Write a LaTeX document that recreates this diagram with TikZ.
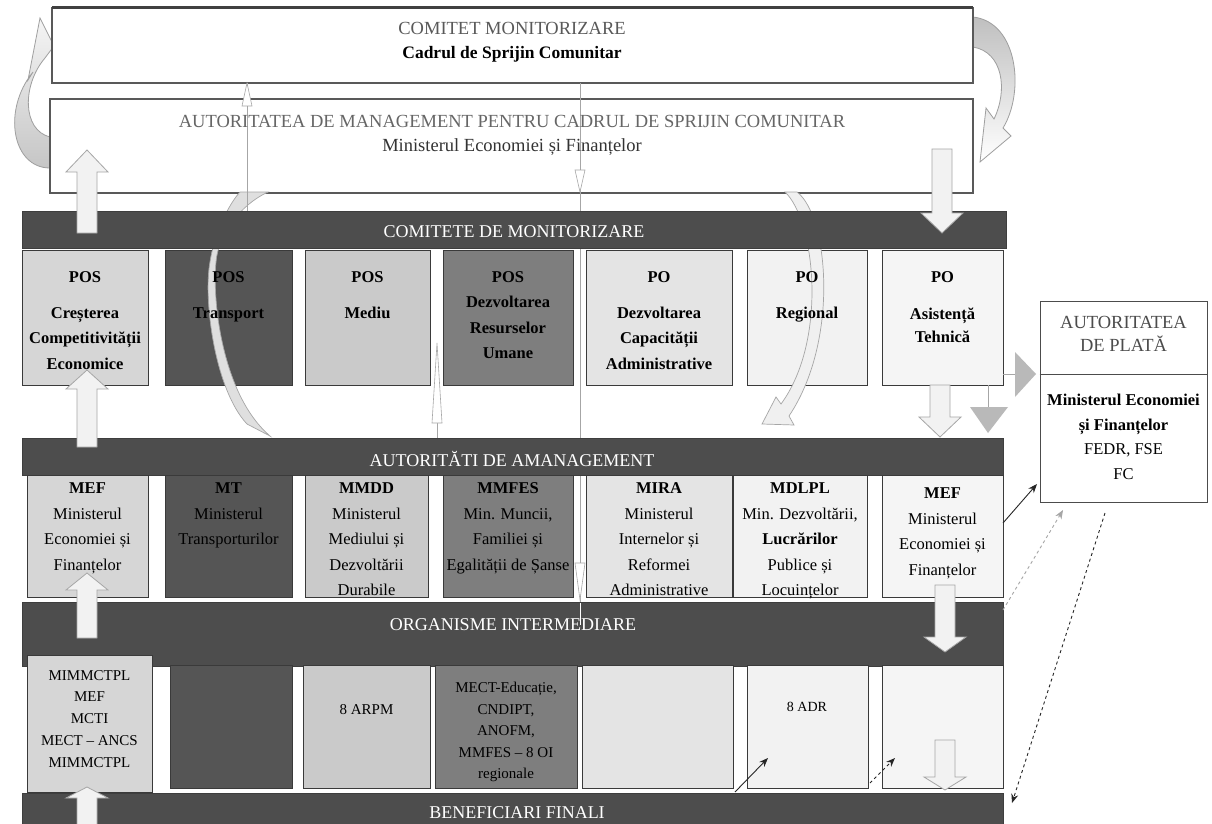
\documentclass[tikz,border=0pt]{standalone}
\usepackage{fontspec}
\setmainfont{Liberation Serif}
\usetikzlibrary{fit,arrows.meta}
\definecolor{band}{HTML}{4D4D4D}
\definecolor{cA}{HTML}{D6D6D6}
\definecolor{cB}{HTML}{555555}
\definecolor{cC}{HTML}{CACACA}
\definecolor{cD}{HTML}{7E7E7E}
\definecolor{cE}{HTML}{E4E4E4}
\definecolor{cF}{HTML}{F2F2F2}
\definecolor{cG}{HTML}{F5F5F5}
\definecolor{edge}{HTML}{3A3A3A}
\definecolor{blk}{HTML}{F2F2F2}
\tikzset{
 cell/.style={draw=edge, line width=0.9pt, inner sep=0pt, outer sep=0pt},
 topbox/.style={draw=black!65, line width=1.2pt, fill=white, inner sep=0pt, outer sep=0pt},
 bandbox/.style={fill=band, draw=band!80!black, inner sep=0pt, outer sep=0pt},
 bandtext/.style={text=white, font=\fontsize{18}{20}\selectfont, inner sep=0pt, anchor=base},
 rowone/.style={font=\fontsize{16.5}{25.5}\selectfont\bfseries, align=center, anchor=north, inner sep=0pt},
 rowtwo/.style={font=\fontsize{16.5}{25.5}\selectfont, align=center, anchor=north, inner sep=0pt},
 rowthree/.style={font=\fontsize{15}{21.8}\selectfont, align=center, anchor=north, inner sep=0pt},
 toptext/.style={font=\fontsize{18.5}{22}\selectfont, anchor=base, inner sep=0pt},
 blockarrow/.style={fill=blk, draw=gray!70, line width=0.8pt, line join=miter},
 slimhead/.style={fill=white, draw=gray!70, line width=0.6pt},
 slimline/.style={draw=gray!70, line width=0.7pt},
 linkarrow/.style={-{Stealth[length=9pt,width=7pt]}, line width=0.9pt, draw=black!85},
}
\newcommand{\cellbox}[6]{\node[cell, fill=#2, fit={(#3,#4) (#5,#6)}] (#1) {};}
\newcommand{\varrow}[4]{\draw[blockarrow] (#1-10,#2) -- (#1-10,#3) -- (#1-21,#3) -- (#1,#4) -- (#1+21,#3) -- (#1+10,#3) -- (#1+10,#2) -- cycle;}
\begin{document}
\begin{tikzpicture}[x=1pt,y=-1pt]
\useasboundingbox (0,0) rectangle (1212,824);
\fill[white] (0,0) rectangle (1212,824);

% curved arrows between the two top boxes
\draw[draw=gray!75, line width=0.8pt, top color=gray!8, bottom color=gray!45]
  (50,168) .. controls (12,168) and (2,110) .. (33,72) -- (28,80) -- (40,18) -- (54,46) -- (45,58)
  .. controls (22,85) and (22,130) .. (50,137) -- cycle;
\draw[draw=gray!75, line width=0.8pt, top color=gray!50, bottom color=white]
  (973,17) .. controls (1018,22) and (1025,92) .. (1003,128) -- (1011,136) -- (980,162) -- (986,108) -- (994,119)
  .. controls (1008,90) and (1003,52) .. (973,47) -- cycle;

% top boxes
\node[topbox, fit={(52,8) (973,83)}] (cm) {};
\draw[line width=3pt, black!75] (cm.north west) -- (cm.north east);
\node[topbox, fit={(50,99) (973,193)}] (am) {};

% row 1
\cellbox{p1}{cA}{22}{250}{148}{385}
\cellbox{p2}{cB}{165}{250}{292}{385}
\cellbox{p3}{cC}{305}{250}{430}{385}
\cellbox{p4}{cD}{443}{250}{573}{385}
\cellbox{p5}{cE}{586}{250}{732}{385}
\cellbox{p6}{cF}{747}{250}{867}{385}
\cellbox{p7}{cG}{882}{250}{1003}{385}

% curved arrows in row 1
\draw[fill=gray!25, draw=gray!70, line width=0.7pt]
  (247,424) .. controls (215,390) and (203,300) .. (210,262) .. controls (214,235) and (228,205) .. (240,192)
  -- (268,192) .. controls (240,205) and (218,235) .. (216,262) .. controls (212,300) and (222,395) .. (270,436) -- cycle;
\draw[fill=gray!12, draw=gray!70, line width=0.7pt]
  (797,192) .. controls (828,215) and (840,340) .. (789,416) -- (794,425) -- (762,424) -- (776,397) -- (781,404)
  .. controls (828,340) and (815,220) .. (785,192) -- cycle;

% thin vertical connectors
\coordinate (la) at (247,83); \coordinate (lb) at (247,211);
\draw[slimline] (la) -- (lb);
\draw[slimhead] (la) -- (252,106) -- (242,106) -- cycle;
\coordinate (ca) at (580,83); \coordinate (cb) at (580,625);
\draw[slimline] (ca) -- (cb);
\draw[slimhead] (575,170) -- (585,170) -- (580,192) -- cycle;
\coordinate (ma) at (437,343); \coordinate (mb) at (437,438);
\draw[slimline] (437,423) -- (mb);
\draw[slimhead] (ma) -- (442,423) -- (432,423) -- cycle;

% bands
\node[bandbox, fit={(22,211) (1006,248)}] (b1) {};
\node[bandbox, fit={(22,438) (1003,475)}] (b2) {};
\node[bandbox, fit={(22,602) (1003,666)}] (b3) {};
\node[bandbox, fit={(22,793) (1003,824)}] (b4) {};

% row 2
\cellbox{q1}{cA}{27}{475}{148}{597}
\cellbox{q2}{cB}{165}{475}{292}{597}
\cellbox{q3}{cC}{305}{475}{428}{597}
\cellbox{q4}{cD}{443}{475}{573}{597}
\cellbox{q5}{cE}{586}{475}{732}{597}
\cellbox{q6}{cF}{733}{475}{867}{597}
\cellbox{q7}{cG}{882}{475}{1003}{597}

% row 3
\cellbox{r1}{cA}{27}{655}{152}{792}
\cellbox{r2}{cB}{170}{665}{292}{788}
\cellbox{r3}{cC}{303}{665}{430}{788}
\cellbox{r4}{cD}{435}{665}{577}{788}
\cellbox{r5}{cE}{582}{665}{733}{788}
\cellbox{r6}{cF}{747}{665}{868}{788}
\cellbox{r7}{cG}{882}{665}{1003}{788}

\draw[white, line width=1pt] (580,603) -- (cb);
\draw[slimhead] (575,563) -- (585,563) -- (580,600) -- cycle;

% block arrows
\varrow{87}{233}{172}{150}
\varrow{942}{149}{213}{233}
\varrow{87}{447}{389}{370}
\varrow{87}{638}{590}{573}
\varrow{87}{826}{798}{787}
\varrow{940}{385}{417}{437}
\varrow{945}{585}{637}{652}
\varrow{945}{740}{777}{790}

% grey triangles next to PO Asistenta Tehnica
\draw[gray!70, line width=0.8pt] (1003,374) -- (1015,374);
\fill[gray!55] (1015,352) -- (1036,374) -- (1015,397) -- cycle;
\draw[gray!70, line width=0.8pt] (988,385) -- (988,407);
\fill[gray!55] (970,407) -- (1008,407) -- (988,433) -- cycle;

% Autoritatea de plata
\node[draw=black!70, line width=1pt, fill=white, inner sep=0pt, fit={(1040,301) (1207,502)}] (ap) {};
\draw[black!70, line width=1pt] (ap.west |- 0,374) -- (ap.east |- 0,374);

% link arrows
\coordinate (k1a) at (1003,523); \coordinate (k1b) at (1037,484);
\coordinate (k2a) at (1003,610); \coordinate (k2b) at (1063,510);
\coordinate (k3a) at (1105,513); \coordinate (k3b) at (1012,803);
\coordinate (k4a) at (735,792);  \coordinate (k4b) at (768,758);
\coordinate (k5a) at (870,783);  \coordinate (k5b) at (895,758);
\draw[linkarrow] (k1a) -- (k1b);
\draw[linkarrow, dashed, draw=gray!70] (k2a) -- (k2b);
\draw[linkarrow, dashed] (k3a) -- (k3b);
\draw[linkarrow] (k4a) -- (k4b);
\draw[linkarrow, dashed] (k5a) -- (k5b);

% texts: top
\node[toptext, text=black!65] (cmt) at (512,35) {COMITET MONITORIZARE};
\node[toptext, font=\fontsize{17.5}{22}\selectfont\bfseries] (cms) at (512,59) {Cadrul de Sprijin Comunitar};
\node[toptext, text=black!60] (amt) at (512,128) {AUTORITATEA DE MANAGEMENT PENTRU CADRUL DE SPRIJIN COMUNITAR};
\node[toptext, text=black!80] (ams) at (512,151) {Ministerul Economiei și Finanțelor};

% band texts
\node[bandtext] (b1t) at (514,237) {COMITETE DE MONITORIZARE};
\node[bandtext] (b2t) at (512,466) {AUTORITĂTI DE AMANAGEMENT};
\node[bandtext] (b3t) at (513,630) {ORGANISME INTERMEDIARE};
\node[bandtext] (b4t) at (517,818) {BENEFICIARI FINALI};

% row 1 texts
\node[rowone] (p1t) at (85,271) {POS\\[10.5pt]Creșterea\\Competitivității\\Economice};
\node[rowone] (p2t) at (228.5,271) {POS\\[10.5pt]Transport};
\node[rowone] (p3t) at (367.5,271) {POS\\[10.5pt]Mediu};
\node[rowone] (p4t) at (508,271) {POS\\Dezvoltarea\\Resurselor\\Umane};
\node[rowone] (p5t) at (659,271) {PO\\[10.5pt]Dezvoltarea\\Capacității\\Administrative};
\node[rowone] (p6t) at (807,271) {PO\\[10.5pt]Regional};
\node[rowone] (p7t) at (942.5,271) {PO\\[11.5pt]Asistență\\[-2.5pt]Tehnică};

% row 2 texts
\node[rowtwo] (q1t) at (87.5,482.5) {\textbf{MEF}\\Ministerul\\Economiei și\\Finanțelor};
\node[rowtwo] (q2t) at (228.5,482.5) {\textbf{MT}\\Ministerul\\Transporturilor};
\node[rowtwo] (q3t) at (366.5,482.5) {\textbf{MMDD}\\Ministerul\\Mediului și\\Dezvoltării\\Durabile};
\node[rowtwo] (q4t) at (508,482.5) {\textbf{MMFES}\\Min. Muncii,\\Familiei și\\Egalității de Șanse};
\node[rowtwo] (q5t) at (659,482.5) {\textbf{MIRA}\\Ministerul\\Internelor și\\Reformei\\Administrative};
\node[rowtwo] (q6t) at (800,482.5) {\textbf{MDLPL}\\Min. Dezvoltării,\\\textbf{Lucrărilor}\\Publice și\\Locuințelor};
\node[rowtwo] (q7t) at (942.5,487.5) {\textbf{MEF}\\Ministerul\\Economiei și\\Finanțelor};

% row 3 texts
\node[rowthree] (r1t) at (89.5,670) {MIMMCTPL\\MEF\\MCTI\\MECT – ANCS\\MIMMCTPL};
\node[rowthree, anchor=center] (r3t) at (366.5,710) {8 ARPM};
\node[rowthree, font=\fontsize{15}{21.5}\selectfont] (r4t) at (506,682) {MECT-Educație,\\CNDIPT,\\ANOFM,\\MMFES – 8 OI\\regionale};
\node[rowthree, anchor=center, font=\fontsize{14}{18}\selectfont] (r6t) at (807,707) {8 ADR};

% Autoritatea de plata texts
\node[font=\fontsize{18.5}{23}\selectfont, text=black!70, align=center, anchor=north, inner sep=0pt] (apt) at (1123.5,316) {AUTORITATEA\\DE PLATĂ};
\node[font=\fontsize{16.5}{24.5}\selectfont, align=center, anchor=north, inner sep=0pt] (aps) at (1123.5,394) {\textbf{Ministerul Economiei}\\\textbf{și Finanțelor}\\FEDR, FSE\\FC};
\end{tikzpicture}
\end{document}
